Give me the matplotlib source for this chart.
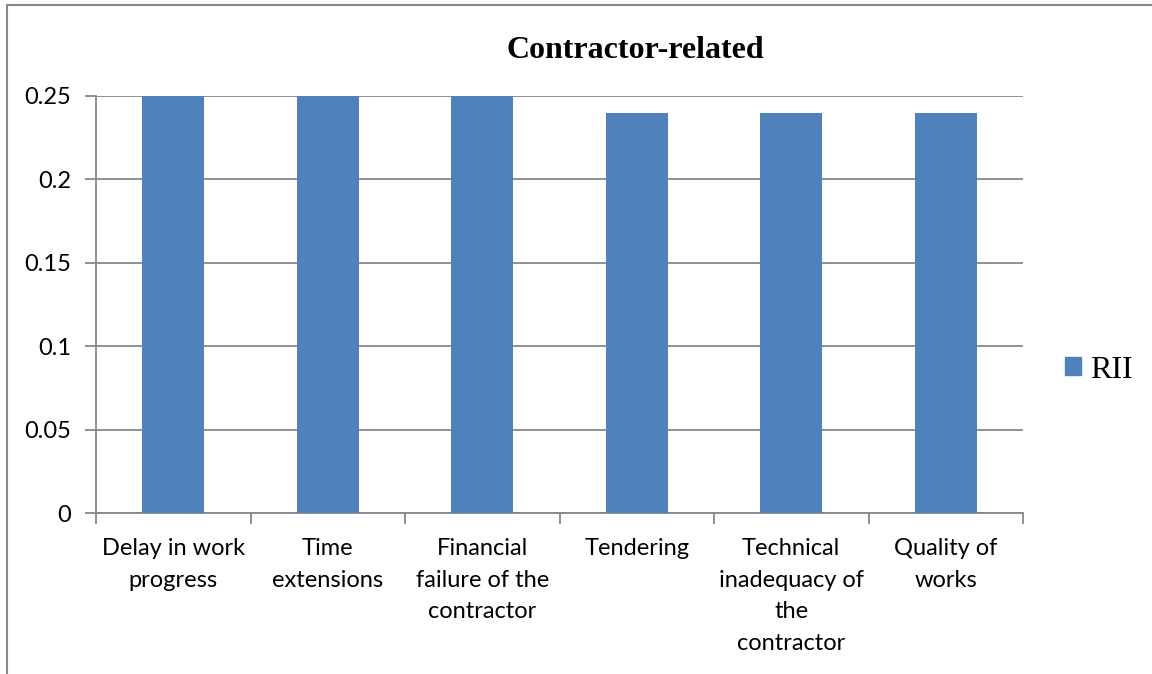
import matplotlib.pyplot as plt
import matplotlib.patches as mpatches
import numpy as np

categories = ['Delay in work\nprogress', 'Time\nextensions', 'Financial\nfailure of the\ncontractor',
              'Tendering', 'Technical\ninadequacy of\nthe\ncontractor', 'Quality of\nworks']
rii = [0.25, 0.25, 0.25, 0.24, 0.24, 0.24]
yticks = [0, 0.05, 0.1, 0.15, 0.2, 0.25]
ytick_labels = ['0', '0.05', '0.1', '0.15', '0.2', '0.25']

bar_color = '#4f81bd'
grid_color = '#878787'
label_font = ['Lato', 'DejaVu Sans']
serif_font = ['Liberation Serif', 'DejaVu Serif']

fig = plt.figure(figsize=(11.52, 6.74), dpi=100)
ax = fig.add_axes([96 / 1152, 1 - 513 / 674, (1023 - 96) / 1152, (513 - 96) / 674])

x = np.arange(len(categories))
ax.bar(x, rii, width=0.4, color=bar_color, zorder=3)

ax.set_xlim(-0.5, len(categories) - 0.5)
ax.set_ylim(0, 0.25)
ax.set_yticks(yticks)
ax.set_yticklabels(ytick_labels, family=label_font, fontsize=17)
ax.yaxis.grid(True, color=grid_color, linewidth=1.3, zorder=0)

# category labels centred, tick marks on the boundaries
ax.set_xticks(x)
ax.set_xticklabels(categories, family=label_font, fontsize=17, linespacing=1.62, va='top')
ax.tick_params(axis='x', length=0, pad=18)
ax.set_xticks(np.arange(-0.5, len(categories)), minor=True)
ax.tick_params(axis='x', which='minor', length=8, width=1.3, color=grid_color, direction='out')
ax.tick_params(axis='y', length=8, width=1.3, color=grid_color, direction='out', pad=10)

for s in ['top', 'right']:
    ax.spines[s].set_visible(False)
for s in ['left', 'bottom']:
    ax.spines[s].set_color(grid_color)
    ax.spines[s].set_linewidth(1.3)

fig.text(635 / 1152, 1 - 50 / 674, 'Contractor-related', ha='center', va='center',
         family=serif_font, fontsize=23, fontweight='bold')

patch = mpatches.Patch(color=bar_color, label='RII')
leg = fig.legend(handles=[patch], loc='center left', bbox_to_anchor=(1036 / 1152, 1 - 370 / 674),
                 frameon=False, prop={'family': serif_font, 'size': 23},
                 handlelength=0.5, handleheight=0.5, handletextpad=0.3)

# outer chart border (only left and top visible in the reference)
fig.add_artist(plt.Line2D([7 / 1152, 7 / 1152], [0, 1 - 5 / 674], color=grid_color, linewidth=1.5))
fig.add_artist(plt.Line2D([7 / 1152, 1], [1 - 5 / 674, 1 - 5 / 674], color=grid_color, linewidth=1.5))

fig.savefig('out.png', dpi=100)
